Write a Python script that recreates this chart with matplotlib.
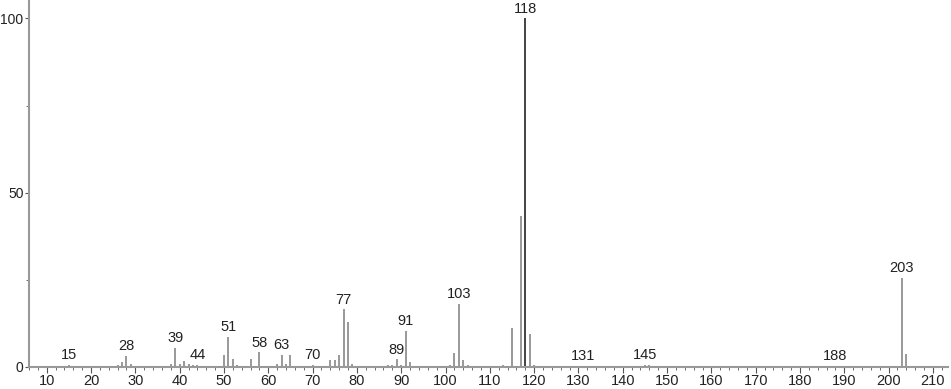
import matplotlib.pyplot as plt

plt.rcParams["font.family"] = ["Liberation Sans", "DejaVu Sans"]

# m/z and relative intensity
mz = [14, 15, 26, 27, 28, 29, 38, 39, 40, 41, 42, 43, 44,
      50, 51, 52, 53, 56, 58, 62, 63, 64, 65, 70,
      74, 75, 76, 77, 78, 79, 86, 87, 88, 89, 90, 91, 92,
      101, 102, 103, 104, 105, 113, 115, 116, 117, 118, 119, 120,
      131, 145, 146, 188, 203, 204, 205]
intensity = [0.3, 0.6, 0.5, 1.3, 3.2, 1.0, 1.0, 5.5, 1.0, 1.8, 1.0, 0.6, 0.5,
             3.3, 8.7, 2.2, 0.7, 2.2, 4.2, 1.0, 3.4, 1.0, 3.4, 0.5,
             2.0, 2.0, 3.3, 16.5, 13.0, 1.0, 0.4, 0.5, 0.6, 2.2, 0.5, 10.3, 1.5,
             0.5, 4.0, 18.0, 2.0, 0.5, 0.5, 11.2, 0.3, 43.4, 100.0, 9.5, 0.5,
             0.3, 0.5, 0.5, 0.3, 25.6, 3.7, 0.3]
labeled = [15, 28, 39, 44, 51, 58, 63, 70, 77, 89, 91, 103, 118, 131, 145, 188, 203]

fig = plt.figure(figsize=(9.51, 3.89), dpi=100)
ax = fig.add_axes([29 / 951, 22 / 389, 919 / 951, 366 / 389])

colors = ["#222222" if m == 118 else "#888888" for m in mz]
ax.vlines(mz, 0, intensity, colors=colors, linewidth=1.2)

for m, h in zip(mz, intensity):
    if m in labeled:
        ax.text(m, h + 0.8, str(m), ha="center", va="bottom", fontsize=10.5, color="#222222")

ax.set_xlim(6.4, 213.4)
ax.set_ylim(0, 105)
ax.set_xticks(range(10, 211, 10))
ax.set_xticks(range(6, 214, 2), minor=True)
ax.set_yticks([0, 50, 100])
ax.set_yticks([25, 75], minor=True)

for s in ["top", "right"]:
    ax.spines[s].set_visible(False)
for s in ["left", "bottom"]:
    ax.spines[s].set_color("#999999")
    ax.spines[s].set_linewidth(1.5)

ax.tick_params(which="both", colors="#555555", labelcolor="#222222")
ax.tick_params(which="major", length=4)
ax.tick_params(which="minor", length=2)
ax.tick_params(axis="y", pad=1, labelsize=10, length=3)
ax.tick_params(axis="x", pad=1, labelsize=10.5)

fig.savefig("out.png", dpi=100)
